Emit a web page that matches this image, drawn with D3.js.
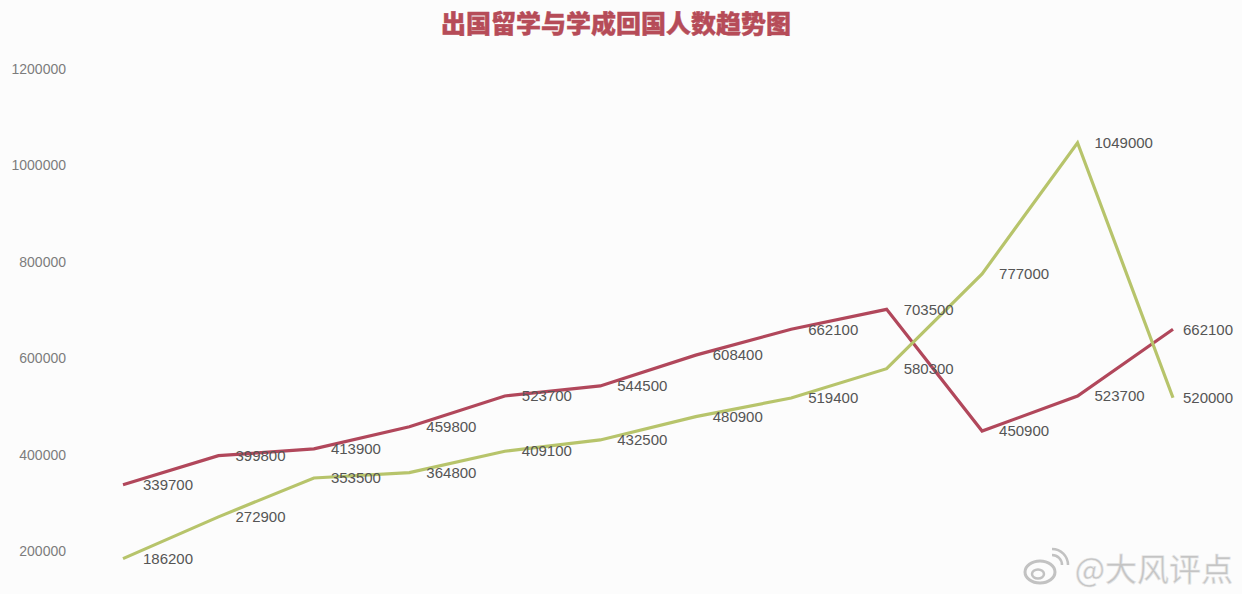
<!DOCTYPE html>
<html><head><meta charset="utf-8">
<script src="https://cdn.jsdelivr.net/npm/d3@7"></script>
<style>
html,body{margin:0;padding:0;background:#fcfcfc;}
svg{display:block;}
</style></head>
<body>
<svg id="chart" width="1242" height="594"></svg>
<script>
const categories = ["1","2","3","4","5","6","7","8","9","10","11","12"];
const outbound = [339700, 399800, 413900, 459800, 523700, 544500, 608400, 662100, 703500, 450900, 523700, 662100];
const returned = [186200, 272900, 353500, 364800, 409100, 432500, 480900, 519400, 580300, 777000, 1049000, 520000];
const yTicks = [200000, 400000, 600000, 800000, 1000000, 1200000];
const title = "出国留学与学成回国人数趋势图";

const svg = d3.select("#chart");
const W = 1242, H = 594;
svg.append("rect").attr("width", W).attr("height", H).attr("fill", "#fcfcfc");

const x = d3.scalePoint().domain(categories).range([123, 1173]);
const y = d3.scaleLinear().domain([0, 1200000]).range([648.4, 70]);

// title
svg.append("text").attr("x", 616).attr("y", 33).attr("text-anchor", "middle")
  .attr("font-family", "Noto Sans CJK SC").attr("font-weight", "900").attr("font-size", 25)
  .attr("fill", "#b64c58").attr("stroke", "#b64c58").attr("stroke-width", 0.4).text(title);

// y axis (labels only)
const yAxis = d3.axisLeft(y).tickValues(yTicks).tickSize(0).tickPadding(0).tickFormat(d3.format("d"));
const ga = svg.append("g").attr("transform", "translate(66,-1)").call(yAxis);
ga.select(".domain").remove();
ga.selectAll("text").attr("font-family", "Liberation Sans").attr("font-size", 14).attr("fill", "#7c7c7c");

const line = d3.line().x((d, i) => x(categories[i])).y(d => y(d));

const series = [
  {values: outbound, color: "#b1475b"},
  {values: returned, color: "#b7c46b"}
];

series.forEach(s => {
  svg.append("path").datum(s.values).attr("d", line)
    .attr("fill", "none").attr("stroke", s.color).attr("stroke-width", 3.2)
    .attr("stroke-linejoin", "miter").attr("stroke-linecap", "butt");
});

series.forEach(s => {
  svg.append("g").selectAll("text").data(s.values).join("text")
    .attr("x", (d, i) => x(categories[i]) + (i === 0 ? 20 : (i === categories.length - 1 ? 10 : 17)))
    .attr("y", d => y(d)).attr("dy", "0.35em")
    .attr("font-family", "Liberation Sans").attr("font-size", 15).attr("fill", "#555")
    .text(d => d);
});

// watermark
const wm = svg.append("g").attr("transform", "translate(1024,570)").attr("opacity", 0.85);
wm.append("ellipse").attr("cx", 16).attr("cy", 2).attr("rx", 15).attr("ry", 11)
  .attr("fill", "none").attr("stroke", "#b8b8b8").attr("stroke-width", 3);
wm.append("ellipse").attr("cx", 14).attr("cy", 4).attr("rx", 6).attr("ry", 4.5)
  .attr("fill", "none").attr("stroke", "#b8b8b8").attr("stroke-width", 2.5);
wm.append("path").attr("d", "M28,-15 A10,10 0 0 1 38,-5").attr("fill", "none").attr("stroke", "#b8b8b8").attr("stroke-width", 2.5);
wm.append("path").attr("d", "M28,-21 A16,16 0 0 1 44,-5").attr("fill", "none").attr("stroke", "#b8b8b8").attr("stroke-width", 2.5);
svg.append("text").attr("x", 1233).attr("y", 581).attr("text-anchor", "end")
  .attr("font-family", "Noto Sans CJK SC").attr("font-size", 32)
  .attr("fill", "#c4c4c4").attr("stroke", "#e8e8e8").attr("stroke-width", 0.6)
  .text("@大风评点");
</script>
</body></html>
